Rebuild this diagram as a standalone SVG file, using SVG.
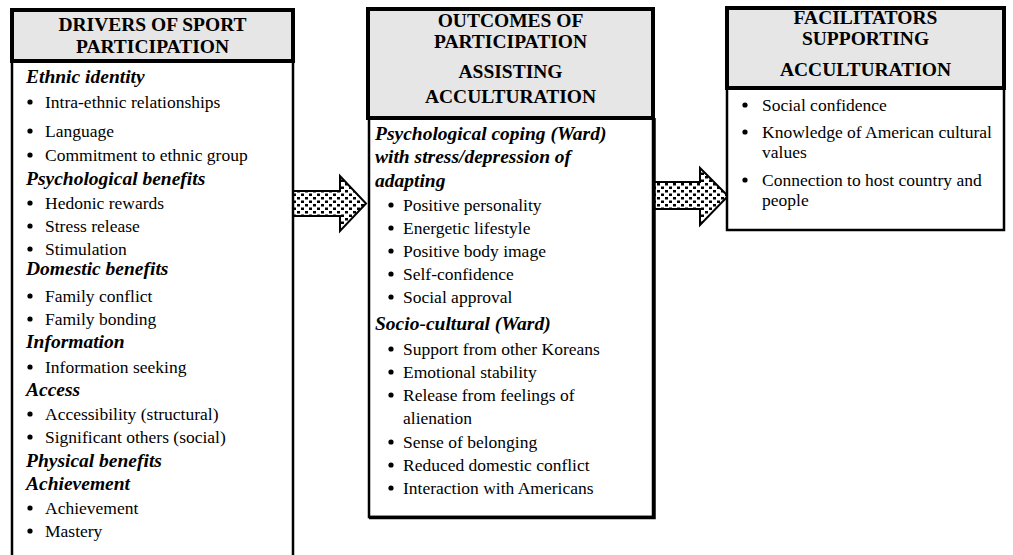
<svg xmlns="http://www.w3.org/2000/svg" width="1013" height="555" viewBox="0 0 1013 555">
<style>
.hdr{fill:#e6e6e6;stroke:#000;stroke-width:4}
.body{fill:#fff;stroke:#000;stroke-width:2.5}
.ht{font-family:"Liberation Serif","Times New Roman",serif;font-weight:bold;font-size:19.5px;text-anchor:middle;fill:#000}
.h2{font-family:"Liberation Serif","Times New Roman",serif;font-weight:bold;font-style:italic;font-size:19.5px;fill:#000}
.t{font-family:"Liberation Serif","Times New Roman",serif;font-size:17.5px;fill:#000}
.arr{fill:url(#dots);stroke:#000;stroke-width:2;stroke-linejoin:miter}
</style>
<defs>
<pattern id="dots" patternUnits="userSpaceOnUse" width="8" height="7">
<rect width="8" height="7" fill="#fff"/>
<rect x="1" y="1" width="3" height="2.5" fill="#000"/>
<rect x="5" y="4.5" width="3" height="2.5" fill="#000"/>
</pattern>
<circle id="b" r="2.6" fill="#000"/>
</defs>

<g id="connectors">
<polygon class="arr" points="293,191 340,191 340,176 366,203.5 340,231 340,216 293,216"/>
<polygon class="arr" points="653,182 700,182 700,168 728,196 700,225 700,209 653,209"/>
</g>

<g id="drivers">
<path d="M12,61 V556 M293,61 V556" fill="none" stroke="#000" stroke-width="2.5"/>
<rect class="hdr" x="12" y="10" width="281" height="51"/>
<text class="ht" x="152.5" y="31">DRIVERS OF SPORT</text>
<text class="ht" x="152.5" y="53">PARTICIPATION</text>
<text class="h2" x="26" y="83">Ethnic identity</text>
<use href="#b" x="30" y="102"/><text class="t" x="45" y="108">Intra-ethnic relationships</text>
<use href="#b" x="30" y="131"/><text class="t" x="45" y="137">Language</text>
<use href="#b" x="30" y="155"/><text class="t" x="45" y="161">Commitment to ethnic group</text>
<text class="h2" x="26" y="185">Psychological benefits</text>
<use href="#b" x="30" y="203"/><text class="t" x="45" y="209">Hedonic rewards</text>
<use href="#b" x="30" y="226"/><text class="t" x="45" y="232">Stress release</text>
<use href="#b" x="30" y="249"/><text class="t" x="45" y="255">Stimulation</text>
<text class="h2" x="26" y="275">Domestic benefits</text>
<use href="#b" x="30" y="296"/><text class="t" x="45" y="302">Family conflict</text>
<use href="#b" x="30" y="319"/><text class="t" x="45" y="325">Family bonding</text>
<text class="h2" x="26" y="348">Information</text>
<use href="#b" x="30" y="367"/><text class="t" x="45" y="373">Information seeking</text>
<text class="h2" x="26" y="396">Access</text>
<use href="#b" x="30" y="414"/><text class="t" x="45" y="420">Accessibility (structural)</text>
<use href="#b" x="30" y="437"/><text class="t" x="45" y="443">Significant others (social)</text>
<text class="h2" x="26" y="467">Physical benefits</text>
<text class="h2" x="26" y="490">Achievement</text>
<use href="#b" x="30" y="508"/><text class="t" x="45" y="514">Achievement</text>
<use href="#b" x="30" y="531"/><text class="t" x="45" y="537">Mastery</text>
</g>

<g id="outcomes">
<rect class="body" x="369" y="118" width="284" height="399"/>
<path d="M369,517.5 H654 V118" fill="none" stroke="#000" stroke-width="3.5"/>
<rect class="hdr" x="368" y="9" width="285" height="109"/>
<text class="ht" x="510.5" y="27">OUTCOMES OF</text>
<text class="ht" x="510.5" y="48">PARTICIPATION</text>
<text class="ht" x="510.5" y="78">ASSISTING</text>
<text class="ht" x="510.5" y="103">ACCULTURATION</text>
<text class="h2" x="375" y="140">Psychological coping (Ward)</text>
<text class="h2" x="375" y="163">with stress/depression of</text>
<text class="h2" x="375" y="187">adapting</text>
<use href="#b" x="391" y="205"/><text class="t" x="403" y="211">Positive personality</text>
<use href="#b" x="391" y="228"/><text class="t" x="403" y="234">Energetic lifestyle</text>
<use href="#b" x="391" y="251"/><text class="t" x="403" y="257">Positive body image</text>
<use href="#b" x="391" y="274"/><text class="t" x="403" y="280">Self-confidence</text>
<use href="#b" x="391" y="297"/><text class="t" x="403" y="303">Social approval</text>
<text class="h2" x="375" y="330">Socio-cultural (Ward)</text>
<use href="#b" x="391" y="349"/><text class="t" x="403" y="355">Support from other Koreans</text>
<use href="#b" x="391" y="372"/><text class="t" x="403" y="378">Emotional stability</text>
<use href="#b" x="391" y="395"/><text class="t" x="403" y="401">Release from feelings of</text>
<text class="t" x="403" y="424">alienation</text>
<use href="#b" x="391" y="442"/><text class="t" x="403" y="448">Sense of belonging</text>
<use href="#b" x="391" y="465"/><text class="t" x="403" y="471">Reduced domestic conflict</text>
<use href="#b" x="391" y="488"/><text class="t" x="403" y="494">Interaction with Americans</text>
</g>

<g id="facilitators">
<rect class="body" x="727" y="88" width="277" height="142"/>
<rect class="hdr" x="727" y="8" width="277" height="80"/>
<text class="ht" x="865.5" y="24">FACILITATORS</text>
<text class="ht" x="865.5" y="45">SUPPORTING</text>
<text class="ht" x="865.5" y="76">ACCULTURATION</text>
<use href="#b" x="745" y="105"/><text class="t" x="762" y="111">Social confidence</text>
<use href="#b" x="745" y="132"/><text class="t" x="762" y="138">Knowledge of American cultural</text>
<text class="t" x="762" y="158">values</text>
<use href="#b" x="745" y="180"/><text class="t" x="762" y="186">Connection to host country and</text>
<text class="t" x="762" y="206">people</text>
</g>
</svg>
